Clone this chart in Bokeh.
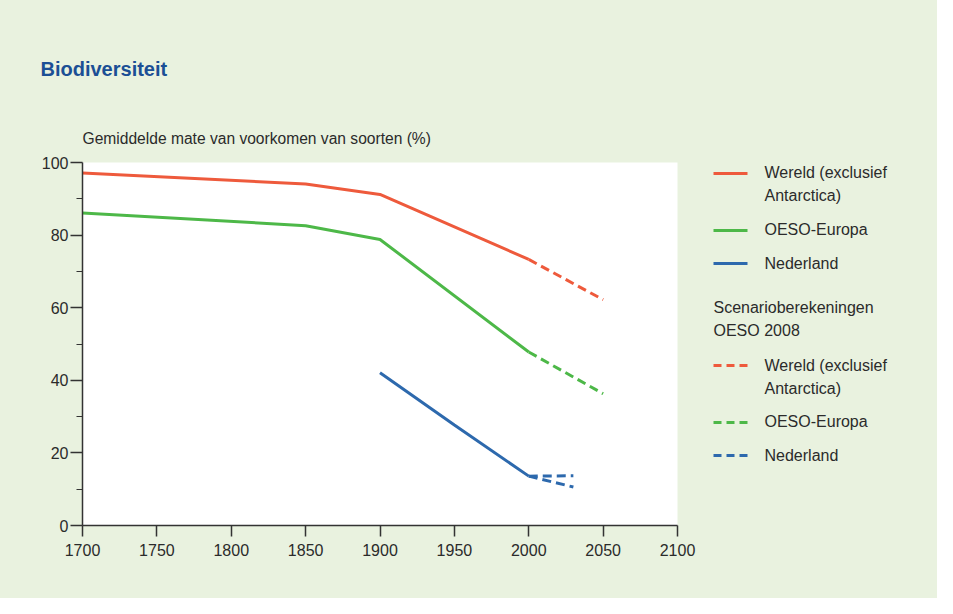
from bokeh.plotting import figure
from bokeh.models import Range1d, FixedTicker
from bokeh.layouts import column, row
from bokeh.core.properties import value
from bokeh.embed import file_html
from bokeh.resources import INLINE

# ---- data ----
world_years = [1700, 1850, 1900, 2000]
world_vals = [97.1, 94.1, 91.2, 73.3]
world_scen_years = [2000, 2050]
world_scen_vals = [73.3, 62.2]

eu_years = [1700, 1850, 1900, 2000]
eu_vals = [86.1, 82.6, 78.8, 47.8]
eu_scen_years = [2000, 2050]
eu_scen_vals = [47.8, 36.3]

nl_years = [1900, 1950, 2000]
nl_vals = [42.1, 27.7, 13.6]
nl_scen_years = [2000, 2030]
nl_scen_a = [13.6, 13.7]
nl_scen_b = [13.6, 10.6]

x_ticks = [1700, 1750, 1800, 1850, 1900, 1950, 2000, 2050, 2100]
y_ticks = [0, 20, 40, 60, 80, 100]
y_minor = [10, 30, 50, 70, 90]

title_text = "Biodiversiteit"
ylabel_text = "Gemiddelde mate van voorkomen van soorten (%)"
legend_solid = [("Wereld (exclusief", "Antarctica)"), ("OESO-Europa",), ("Nederland",)]
legend_header = ("Scenarioberekeningen", "OESO 2008")

RED = "#EE5A3C"
GREEN = "#4DB848"
BLUE = "#2D69AD"
BG = "#E9F2DF"
TXT = "#2B2B2B"
FONT = "Liberation Sans"

TOTAL_W, TOTAL_H = 937, 598
HEAD_H = 150
CHART_W = 700
BODY_H = TOTAL_H - HEAD_H
LEG_W = TOTAL_W - CHART_W
# frame edges in overall picture pixels
FL, FR, FT, FB = 82, 677, 162, 525
BORDER_TOP = FT - HEAD_H
BORDER_BOTTOM = BODY_H - (FB - HEAD_H)


def blank(w, h, xr, yr, top=0, bottom=0):
    f = figure(width=w, height=h, output_backend="svg", toolbar_location=None,
               x_range=xr, y_range=yr,
               x_axis_location=None, y_axis_location=None,
               min_border_left=0, min_border_right=0,
               min_border_top=top, min_border_bottom=bottom)
    f.border_fill_color = BG
    f.background_fill_color = BG
    f.outline_line_color = None
    f.xgrid.visible = False
    f.ygrid.visible = False
    return f


# ---- header (title + y-axis caption) ----
head = blank(TOTAL_W, HEAD_H, Range1d(0, TOTAL_W), Range1d(HEAD_H, 0))
head.text(x=[40], y=[68], text=[title_text], text_font=value(FONT),
          text_font_size=value("20px"), text_font_style="bold",
          text_color="#1B4F95", text_baseline="middle")
head.text(x=[82], y=[138], text=[ylabel_text], text_font=value(FONT),
          text_font_size=value("15.6px"), text_color=TXT, text_baseline="middle")

# ---- chart ----
p = figure(width=CHART_W, height=BODY_H, output_backend="svg", toolbar_location=None,
           x_range=Range1d(1700, 2100), y_range=Range1d(0, 100),
           min_border_left=FL, min_border_top=BORDER_TOP,
           min_border_right=CHART_W - FR, min_border_bottom=BORDER_BOTTOM)
p.border_fill_color = BG
p.background_fill_color = "white"
p.outline_line_color = None
p.xgrid.visible = False
p.ygrid.visible = False

for ax in (p.xaxis[0], p.yaxis[0]):
    ax.axis_line_color = "#333333"
    ax.axis_line_width = 1.5
    ax.major_tick_line_color = "#333333"
    ax.major_tick_line_width = 1.5
    ax.minor_tick_line_color = "#333333"
    ax.minor_tick_line_width = 1.2
    ax.major_label_text_font = FONT
    ax.major_label_text_font_size = "16px"
    ax.major_label_text_color = TXT
    ax.major_tick_in = 0

p.xaxis.ticker = FixedTicker(ticks=x_ticks)
p.xaxis.major_tick_out = 11
p.xaxis.minor_tick_out = 0
p.xaxis.major_label_standoff = 7
p.yaxis.ticker = FixedTicker(ticks=y_ticks, minor_ticks=y_minor)
p.yaxis.major_tick_out = 12
p.yaxis.minor_tick_out = 6
p.yaxis.minor_tick_in = 0
p.yaxis.major_label_standoff = 2

LW = 3
DASH = "9 5"
p.line(world_years, world_vals, color=RED, line_width=LW)
p.line(eu_years, eu_vals, color=GREEN, line_width=LW)
p.line(nl_years, nl_vals, color=BLUE, line_width=LW)
p.line(world_scen_years, world_scen_vals, color=RED, line_width=LW, line_dash=DASH)
p.line(eu_scen_years, eu_scen_vals, color=GREEN, line_width=LW, line_dash=DASH)
p.line(nl_scen_years, nl_scen_a, color=BLUE, line_width=LW, line_dash=DASH)
p.line(nl_scen_years, nl_scen_b, color=BLUE, line_width=LW, line_dash=DASH)

# ---- legend panel (its frame is aligned with the chart frame by the row) ----
leg = blank(LEG_W, BODY_H, Range1d(CHART_W, TOTAL_W), Range1d(FB, FT),
            top=BORDER_TOP, bottom=BORDER_BOTTOM)


def leg_text(px, py, t):
    leg.text(x=[px], y=[py], text=[t], text_font=value(FONT),
             text_font_size=value("16px"), text_color=TXT, text_baseline="middle")


def leg_line(py, color, dash):
    leg.segment(x0=[713], y0=[py], x1=[747], y1=[py],
                line_color=color, line_width=3, line_dash=dash)


colors = [RED, GREEN, BLUE]
solid_y = [(173, [172, 195]), (230, [229]), (263, [263])]
dash_y = [(365, [365, 388]), (422, [421]), (455, [455])]
for (ly, ty), c, lab in zip(solid_y, colors, legend_solid):
    leg_line(ly, c, "solid")
    for yy, t in zip(ty, lab):
        leg_text(764, yy, t)
for yy, t in zip([307, 330], legend_header):
    leg_text(713, yy, t)
for (ly, ty), c, lab in zip(dash_y, colors, legend_solid):
    leg_line(ly, c, "8 5")
    for yy, t in zip(ty, lab):
        leg_text(764, yy, t)

bg_style = {"background-color": BG}
layout = column(head, row(p, leg, spacing=0, styles=bg_style), spacing=0, styles=bg_style)
open("out.html", "w").write(file_html(layout, INLINE))
